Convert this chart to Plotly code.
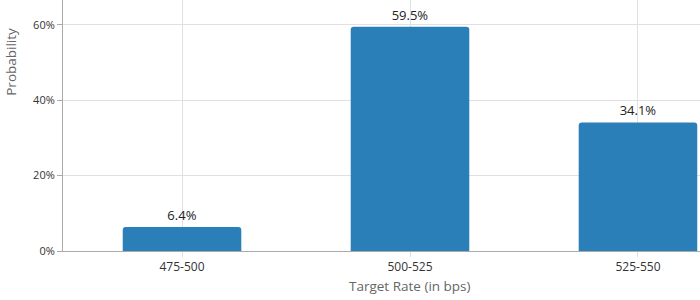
import plotly.graph_objects as go

categories = ["475-500", "500-525", "525-550"]
probabilities = [6.4, 59.5, 34.1]
y_ticks = [0, 20, 40, 60]
y_tick_labels = ["0%", "20%", "40%", "60%"]

fig = go.Figure()
fig.add_trace(go.Bar(
    x=categories,
    y=probabilities,
    text=[f"{v:.1f}%" for v in probabilities],
    textposition="outside",
    textfont=dict(family="Open Sans", size=13, color="#222222"),
    marker=dict(color="#2a7fb8", cornerradius=3, line=dict(width=0)),
    width=0.52,
    cliponaxis=False,
))

fig.update_layout(
    width=700, height=300,
    margin=dict(l=63, r=0, t=0, b=49),
    plot_bgcolor="white", paper_bgcolor="white",
    showlegend=False,
    font=dict(family="Open Sans", color="#333333"),
    xaxis=dict(
        range=[-0.522, 2.272],
        showgrid=True, gridcolor="#e0e0e0", gridwidth=1,
        showline=True, linecolor="#aaaaaa", linewidth=1,
        ticks="outside", ticklen=5, tickcolor="#e0e0e0",
        tickfont=dict(family="Open Sans", size=12, color="#333333"),
        zeroline=False,
    ),
    yaxis=dict(
        range=[0, 66.6],
        tickvals=y_ticks, ticktext=y_tick_labels,
        showgrid=True, gridcolor="#e0e0e0", gridwidth=1,
        showline=True, linecolor="#aaaaaa", linewidth=1,
        ticks="outside", ticklen=5, tickcolor="#aaaaaa",
        tickfont=dict(family="Open Sans", size=11, color="#333333"),
        zeroline=False,
    ),
    annotations=[
        dict(text="Probability", xref="paper", yref="paper",
             x=-0.082, y=0.753, textangle=-90, showarrow=False,
             xanchor="center", yanchor="middle",
             font=dict(family="Open Sans", size=13.5, color="#666666")),
        dict(text="Target Rate (in bps)", xref="x", yref="paper",
             x=1, y=-0.14, showarrow=False,
             xanchor="center", yanchor="middle",
             font=dict(family="Open Sans", size=13.5, color="#666666")),
    ],
)

fig.write_html("out.html")
